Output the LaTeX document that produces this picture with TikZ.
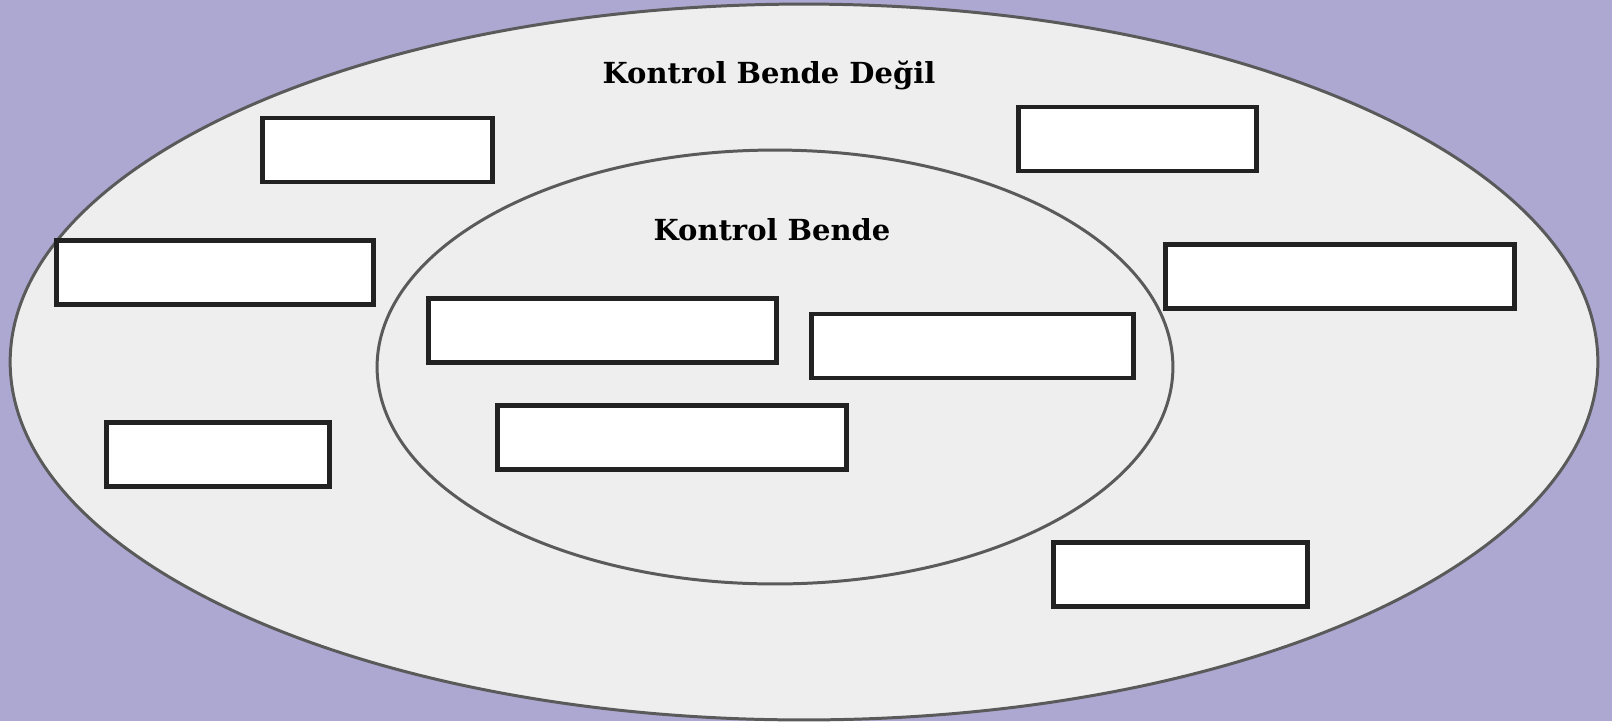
\documentclass[tikz,border=0pt]{standalone}
\usepackage{fontspec}
\setmainfont{DejaVu Serif}
\usepackage{xcolor}
\definecolor{lilac}{RGB}{173,168,210}
\definecolor{zonefill}{RGB}{238,238,238}
\definecolor{zoneline}{RGB}{90,90,90}
\definecolor{boxline}{RGB}{34,34,34}

\begin{document}
\begin{tikzpicture}[x=0.02cm,y=-0.02cm]
\tikzset{zone/.style={fill=zonefill,draw=zoneline,line width=1.7pt}}
\tikzset{emptybox/.style={draw=boxline,fill=white,line width=2.8pt,inner sep=0pt,minimum height=1.28cm}}
\tikzset{zonetitle/.style={font=\bfseries\fontsize{16.5}{19}\selectfont}}
\fill[lilac] (0,0) rectangle (1612,721);
\useasboundingbox (0,0) rectangle (1612,721);
\draw[zone] (804,362) ellipse [x radius=15.88cm, y radius=7.16cm];
\draw[zone] (775,367) ellipse [x radius=7.96cm, y radius=4.34cm];
\node[zonetitle] (outertitle) at (769,75) {Kontrol Bende Değil};
\node[zonetitle] (innertitle) at (772,230) {Kontrol Bende};
% outside boxes
\node[emptybox,minimum width=4.6cm] (outa) at (377.5,150) {};
\node[emptybox,minimum width=4.76cm] (outb) at (1137.5,139) {};
\node[emptybox,minimum width=6.34cm] (outc) at (215,272.5) {};
\node[emptybox,minimum width=6.98cm] (outd) at (1340,276.5) {};
\node[emptybox,minimum width=4.46cm] (oute) at (218,454.5) {};
\node[emptybox,minimum width=5.08cm] (outf) at (1180.5,574.5) {};
% inside boxes
\node[emptybox,minimum width=6.96cm] (ina) at (602.5,330.5) {};
\node[emptybox,minimum width=6.44cm] (inb) at (972.5,346) {};
\node[emptybox,minimum width=6.98cm] (inc) at (672,437.5) {};
\end{tikzpicture}
\end{document}
